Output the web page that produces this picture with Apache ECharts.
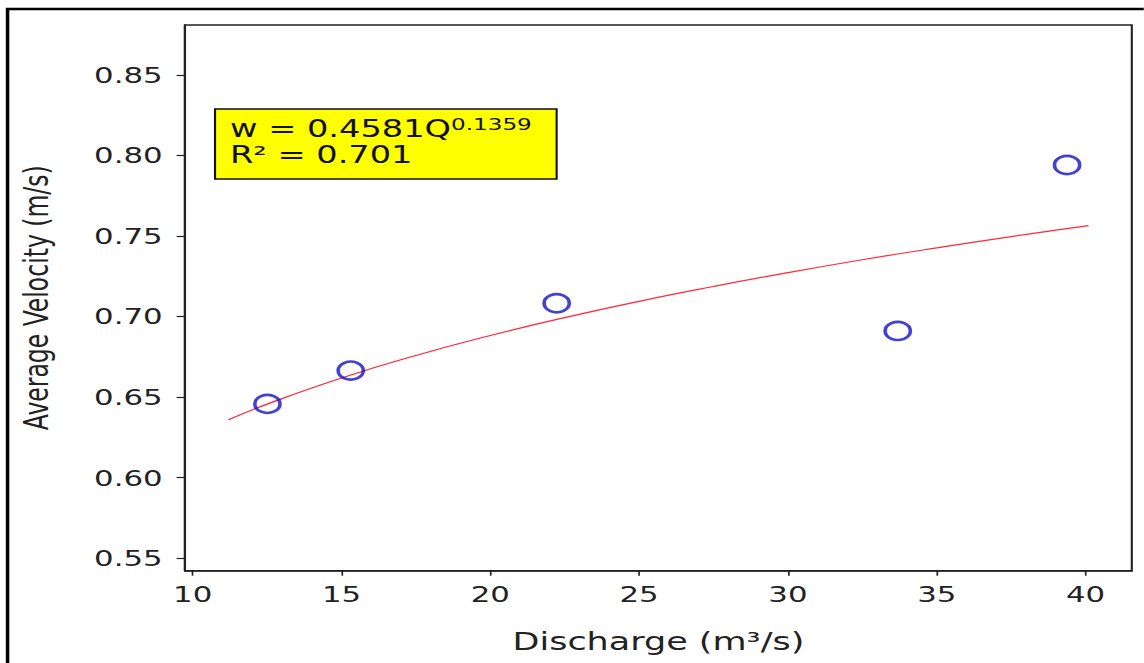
<!DOCTYPE html>
<html>
<head>
<meta charset="utf-8">
<script src="https://cdn.jsdelivr.net/npm/echarts@6/dist/echarts.min.js"></script>
<style>
  html, body { margin: 0; padding: 0; background: #fff; overflow: hidden; }
  /* the original picture is stretched sideways by ~1.4 */
  #chart { width: 817.14px; height: 663px; transform: scaleX(1.4); transform-origin: 0 0; }
</style>
</head>
<body>
<div id="chart"></div>
<script>
// measured points
var discharge = [12.51, 15.31, 22.23, 33.69, 39.38];
var velocity = [0.6458, 0.6665, 0.7083, 0.6911, 0.7941];

// points (w = 0.4581 Q^0.1359)
var fitQ = [11.2, 12.5, 15, 17.5, 20, 22.5, 25, 27.5, 30, 32.5, 35, 37.5, 40.1];
var fitW = [0.636, 0.6457, 0.6619, 0.6759, 0.6883, 0.6994, 0.7095, 0.7187, 0.7273, 0.7353, 0.7427, 0.7497, 0.7565];

var xTicks = [10, 15, 20, 25, 30, 35, 40];
var yTicks = [0.55, 0.60, 0.65, 0.70, 0.75, 0.80, 0.85];

var chart = echarts.init(document.getElementById('chart'), null, { renderer: 'svg' });
var font = 'DejaVu Sans';
var ink = '#222';

var option = {
  backgroundColor: '#fff',
  animation: false,
  grid: {
    left: 132.14, right: 8.57, top: 25, bottom: 92.3,
    show: true, borderColor: ink, borderWidth: 1.5,
    outerBoundsMode: 'none'
  },
  xAxis: {
    type: 'value',
    min: 9.741,
    max: 41.555,
    name: 'Discharge (m³/s)',
    nameLocation: 'middle',
    nameGap: 58,
    nameTextStyle: { fontFamily: font, fontSize: 25, color: ink },
    axisLine: { show: true, onZero: false, lineStyle: { color: ink, width: 1.5 } },
    axisTick: { show: true, length: 5, customValues: xTicks, lineStyle: { color: ink, width: 1.2 } },
    axisLabel: { customValues: xTicks, margin: 12, fontFamily: font, fontSize: 22, color: ink },
    splitLine: { show: false }
  },
  yAxis: {
    type: 'value',
    min: 0.5423,
    max: 0.881,
    name: 'Average Velocity (m/s)',
    nameLocation: 'middle',
    nameRotate: 90,
    nameGap: 94,
    nameTextStyle: { fontFamily: font, fontSize: 23.5, color: ink },
    axisLine: { show: true, onZero: false, lineStyle: { color: ink, width: 1.5 } },
    axisTick: { show: true, length: 6, customValues: yTicks, lineStyle: { color: ink, width: 1.2 } },
    axisLabel: {
      customValues: yTicks, margin: 16, fontFamily: font, fontSize: 22, color: ink,
      formatter: function (v) { return v.toFixed(2); }
    },
    splitLine: { show: false }
  },
  series: [
    {
      type: 'line',
      data: fitQ.map(function (q, i) { return [q, fitW[i]]; }),
      smooth: true,
      showSymbol: false,
      lineStyle: { color: '#ff2a3a', width: 1.2 },
      z: 2
    },
    {
      type: 'scatter',
      data: discharge.map(function (q, i) { return [q, velocity[i]]; }),
      symbol: 'circle',
      symbolSize: 18,
      itemStyle: { color: 'rgba(0,0,0,0)', borderColor: '#1414c4', borderWidth: 2.6 },
      z: 3
    }
  ],
  graphic: [
    {
      type: 'rect', silent: true, z: 0,
      shape: { x: 5.4, y: 9, width: 1000, height: 800 },
      style: { fill: 'none', stroke: '#000', lineWidth: 2.5 }
    },
    {
      type: 'rect', silent: true, z: 10,
      shape: { x: 153.6, y: 109, width: 244, height: 70 },
      style: { fill: '#ffff00', stroke: '#111', lineWidth: 1.5 }
    },
    {
      type: 'text', silent: true, z: 11,
      x: 164.3, y: 116,
      style: {
        text: '{m|w = 0.4581Q}{s|0.1359}\n{m|R² = 0.701}',
        verticalAlign: 'top',
        rich: {
          m: { fontFamily: font, fontSize: 24, lineHeight: 26, fill: '#111' },
          s: { fontFamily: font, fontSize: 16.5, lineHeight: 15, verticalAlign: 'top', fill: '#111' }
        }
      }
    }
  ]
};

chart.setOption(option);
</script>
</body>
</html>
